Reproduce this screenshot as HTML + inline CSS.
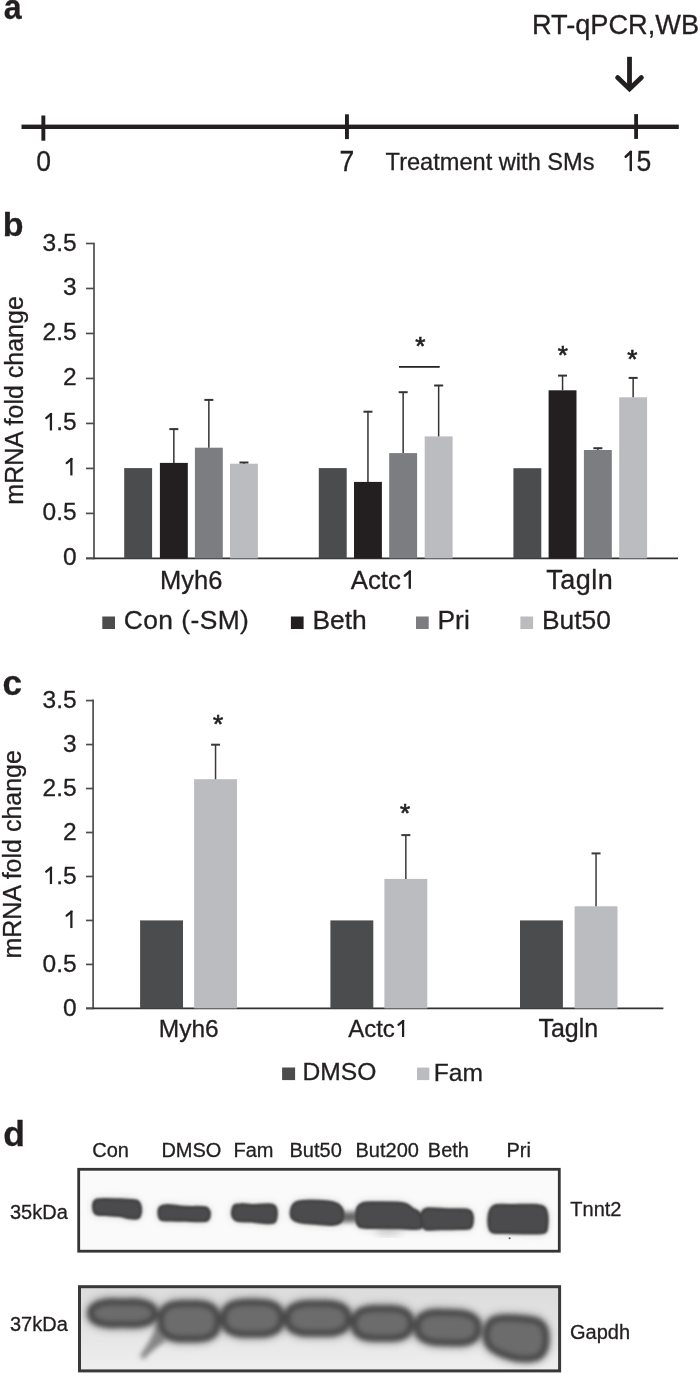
<!DOCTYPE html>
<html><head><meta charset="utf-8"><style>
html,body{margin:0;padding:0;background:#fff;overflow:hidden;width:700px;height:1373px;}
svg{display:block;will-change:transform;}
text{font-family:"Liberation Sans",sans-serif;stroke:#231f20;stroke-width:0.3px;}
</style></head><body>
<svg width="700" height="1373" viewBox="0 0 700 1373">
<defs>
<filter id="b1" x="-20%" y="-50%" width="140%" height="200%"><feGaussianBlur stdDeviation="1.3"/></filter>
<filter id="b2" x="-20%" y="-50%" width="140%" height="200%"><feGaussianBlur stdDeviation="2.5"/></filter>
<filter id="b3" x="-50%" y="-50%" width="200%" height="200%"><feGaussianBlur stdDeviation="4"/></filter>
<linearGradient id="g2" x1="0" y1="0" x2="0" y2="1"><stop offset="0" stop-color="#dcdcdc"/><stop offset="0.5" stop-color="#e4e4e4"/><stop offset="1" stop-color="#efefef"/></linearGradient>
<clipPath id="c1"><rect x="80.1" y="1170.7" width="477.8" height="79.1"/></clipPath>
<clipPath id="c2"><rect x="81" y="1288.2" width="477.1" height="81.2"/></clipPath>
</defs>
<rect x="0" y="0" width="700" height="1373" fill="#fff"/>
<text x="3.7" y="18.6" font-size="35" text-anchor="start" font-weight="bold" fill="#231f20" transform="translate(4.9 0) scale(0.92 1) translate(-4.9 0)">a</text>
<rect x="21.50" y="124.60" width="657.30" height="4.40" fill="#231f20" />
<rect x="41.40" y="115.50" width="3.90" height="25.20" fill="#231f20" />
<rect x="345.00" y="114.30" width="3.90" height="24.80" fill="#231f20" />
<rect x="634.20" y="114.10" width="3.80" height="24.80" fill="#231f20" />
<g transform="translate(0 171.1) scale(1 1.08) translate(0 -171.1)">
<text x="43.6" y="171.1" font-size="26.5" text-anchor="middle" font-weight="normal" fill="#231f20" >0</text>
<text x="346.9" y="171.1" font-size="26.5" text-anchor="middle" font-weight="normal" fill="#231f20" >7</text>
<rect x="629.53" y="152.39" width="2.44" height="18.71" fill="#231f20"/>
<line x1="630.94" y1="153.29" x2="625.64" y2="157.72" stroke="#231f20" stroke-width="2.44" stroke-linecap="round"/>
<text x="636.4" y="171.1" font-size="26.5" text-anchor="start" font-weight="normal" fill="#231f20" >5</text>
</g>
<text x="385.6" y="170.3" font-size="23.6" text-anchor="start" font-weight="normal" fill="#231f20" >Treatment with SMs</text>
<text x="531.9" y="33.9" font-size="27.2" text-anchor="start" font-weight="normal" fill="#231f20" >RT-qPCR,WB</text>
<rect x="627.10" y="56.80" width="4.80" height="31.00" fill="#231f20" />
<polyline points="617.6,77.6 629.5,89.0 641.4,77.6" fill="none" stroke="#231f20" stroke-width="4.8" stroke-linecap="round" stroke-linejoin="miter"/>
<text x="2.8" y="236.4" font-size="34" text-anchor="start" font-weight="bold" fill="#231f20" >b</text>
<line x1="94.00" y1="242.65" x2="94.00" y2="559.25" stroke="#4d4d4f" stroke-width="1.7" />
<line x1="86.00" y1="558.40" x2="678.00" y2="558.40" stroke="#333132" stroke-width="1.7" />
<line x1="86.00" y1="558.40" x2="94.00" y2="558.40" stroke="#4d4d4f" stroke-width="1.7" />
<text x="76.6" y="565.4" font-size="24.5" text-anchor="end" font-weight="normal" fill="#231f20" >0</text>
<line x1="86.00" y1="513.41" x2="94.00" y2="513.41" stroke="#4d4d4f" stroke-width="1.7" />
<text x="76.6" y="520.415" font-size="24.5" text-anchor="end" font-weight="normal" fill="#231f20" >0.5</text>
<line x1="86.00" y1="468.43" x2="94.00" y2="468.43" stroke="#4d4d4f" stroke-width="1.7" />
<rect x="70.25" y="458.13" width="2.25" height="17.30" fill="#231f20"/>
<line x1="71.55" y1="458.97" x2="66.65" y2="463.06" stroke="#231f20" stroke-width="2.25" stroke-linecap="round"/>
<line x1="86.00" y1="423.44" x2="94.00" y2="423.44" stroke="#4d4d4f" stroke-width="1.7" />
<rect x="49.82" y="413.15" width="2.25" height="17.30" fill="#231f20"/>
<line x1="51.12" y1="413.98" x2="46.22" y2="418.07" stroke="#231f20" stroke-width="2.25" stroke-linecap="round"/>
<text x="56.167382812499994" y="430.445" font-size="24.5" text-anchor="start" font-weight="normal" fill="#231f20" >.5</text>
<line x1="86.00" y1="378.46" x2="94.00" y2="378.46" stroke="#4d4d4f" stroke-width="1.7" />
<text x="76.6" y="385.46" font-size="24.5" text-anchor="end" font-weight="normal" fill="#231f20" >2</text>
<line x1="86.00" y1="333.47" x2="94.00" y2="333.47" stroke="#4d4d4f" stroke-width="1.7" />
<text x="76.6" y="340.47499999999997" font-size="24.5" text-anchor="end" font-weight="normal" fill="#231f20" >2.5</text>
<line x1="86.00" y1="288.49" x2="94.00" y2="288.49" stroke="#4d4d4f" stroke-width="1.7" />
<text x="76.6" y="295.49" font-size="24.5" text-anchor="end" font-weight="normal" fill="#231f20" >3</text>
<line x1="86.00" y1="243.50" x2="94.00" y2="243.50" stroke="#4d4d4f" stroke-width="1.7" />
<text x="76.6" y="250.505" font-size="24.5" text-anchor="end" font-weight="normal" fill="#231f20" >3.5</text>
<text x="22.6" y="400.4" font-size="25" text-anchor="middle" fill="#231f20" transform="rotate(-90 22.6 400.4)">mRNA fold change</text>
<rect x="124.20" y="468.10" width="27.90" height="90.30" fill="#4b4c4e" />
<rect x="159.90" y="462.90" width="27.90" height="95.50" fill="#231f20" />
<rect x="194.90" y="447.70" width="27.90" height="110.70" fill="#7c7d81" />
<rect x="230.00" y="463.70" width="27.90" height="94.70" fill="#bbbcbf" />
<line x1="173.85" y1="429.10" x2="173.85" y2="462.90" stroke="#333" stroke-width="1.5" />
<line x1="169.35" y1="429.10" x2="178.35" y2="429.10" stroke="#333" stroke-width="2.0" />
<line x1="208.85" y1="399.90" x2="208.85" y2="447.70" stroke="#333" stroke-width="1.5" />
<line x1="204.35" y1="399.90" x2="213.35" y2="399.90" stroke="#333" stroke-width="2.0" />
<line x1="243.95" y1="462.50" x2="243.95" y2="463.70" stroke="#333" stroke-width="1.5" />
<line x1="239.45" y1="462.50" x2="248.45" y2="462.50" stroke="#333" stroke-width="2.0" />
<rect x="318.80" y="468.10" width="27.90" height="90.30" fill="#4b4c4e" />
<rect x="354.00" y="481.90" width="27.90" height="76.50" fill="#231f20" />
<rect x="389.20" y="453.10" width="27.90" height="105.30" fill="#7c7d81" />
<rect x="424.70" y="436.40" width="27.90" height="122.00" fill="#bbbcbf" />
<line x1="367.95" y1="411.70" x2="367.95" y2="481.90" stroke="#333" stroke-width="1.5" />
<line x1="363.45" y1="411.70" x2="372.45" y2="411.70" stroke="#333" stroke-width="2.0" />
<line x1="403.15" y1="392.20" x2="403.15" y2="453.10" stroke="#333" stroke-width="1.5" />
<line x1="398.65" y1="392.20" x2="407.65" y2="392.20" stroke="#333" stroke-width="2.0" />
<line x1="438.65" y1="385.50" x2="438.65" y2="436.40" stroke="#333" stroke-width="1.5" />
<line x1="434.15" y1="385.50" x2="443.15" y2="385.50" stroke="#333" stroke-width="2.0" />
<rect x="513.40" y="468.20" width="27.90" height="90.20" fill="#4b4c4e" />
<rect x="548.60" y="390.30" width="27.90" height="168.10" fill="#231f20" />
<rect x="583.90" y="450.00" width="27.90" height="108.40" fill="#7c7d81" />
<rect x="619.20" y="397.30" width="27.90" height="161.10" fill="#bbbcbf" />
<line x1="562.55" y1="375.60" x2="562.55" y2="390.30" stroke="#333" stroke-width="1.5" />
<line x1="558.05" y1="375.60" x2="567.05" y2="375.60" stroke="#333" stroke-width="2.0" />
<line x1="597.85" y1="448.20" x2="597.85" y2="450.00" stroke="#333" stroke-width="1.5" />
<line x1="593.35" y1="448.20" x2="602.35" y2="448.20" stroke="#333" stroke-width="2.0" />
<line x1="633.15" y1="377.90" x2="633.15" y2="397.30" stroke="#333" stroke-width="1.5" />
<line x1="628.65" y1="377.90" x2="637.65" y2="377.90" stroke="#333" stroke-width="2.0" />
<line x1="399.00" y1="366.80" x2="439.70" y2="366.80" stroke="#231f20" stroke-width="1.7" />
<text x="420.29999999999995" y="354.65999999999997" font-size="26" text-anchor="middle" font-weight="normal" fill="#231f20" style="stroke-width:0.7px">*</text>
<text x="562.6999999999999" y="363.86" font-size="26" text-anchor="middle" font-weight="normal" fill="#231f20" style="stroke-width:0.7px">*</text>
<text x="632.1999999999999" y="368.26" font-size="26" text-anchor="middle" font-weight="normal" fill="#231f20" style="stroke-width:0.7px">*</text>
<text x="191.2" y="589.0" font-size="25.5" text-anchor="middle" font-weight="normal" fill="#231f20" >Myh6</text>
<text x="350.7373015625" y="588.8" font-size="25.8" text-anchor="start" font-weight="normal" fill="#231f20" >Actc</text>
<rect x="408.58" y="570.59" width="2.37" height="18.21" fill="#231f20"/>
<line x1="409.94" y1="571.46" x2="404.78" y2="575.77" stroke="#231f20" stroke-width="2.37" stroke-linecap="round"/>
<text x="579.8" y="589.0" font-size="27" text-anchor="middle" font-weight="normal" fill="#231f20" letter-spacing="0.5">Tagln</text>
<rect x="102.30" y="616.50" width="12.70" height="12.50" fill="#4b4c4e" />
<text x="123.8" y="629.3" font-size="26.4" text-anchor="start" font-weight="normal" fill="#231f20" letter-spacing="0.42">Con (-SM)</text>
<rect x="290.90" y="616.50" width="12.70" height="12.50" fill="#231f20" />
<text x="312.4" y="629.3" font-size="26.4" text-anchor="start" font-weight="normal" fill="#231f20" >Beth</text>
<rect x="416.00" y="616.50" width="12.70" height="12.50" fill="#7c7d81" />
<text x="437.5" y="629.3" font-size="26.4" text-anchor="start" font-weight="normal" fill="#231f20" >Pri</text>
<rect x="520.40" y="616.50" width="12.70" height="12.50" fill="#bbbcbf" />
<text x="541.9" y="629.3" font-size="26.4" text-anchor="start" font-weight="normal" fill="#231f20" >But50</text>
<text x="2.6" y="695.0" font-size="35" text-anchor="start" font-weight="bold" fill="#231f20" >c</text>
<line x1="93.10" y1="699.45" x2="93.10" y2="1009.25" stroke="#4d4d4f" stroke-width="1.7" />
<line x1="86.00" y1="1008.40" x2="663.40" y2="1008.40" stroke="#333132" stroke-width="1.7" />
<line x1="86.00" y1="1008.40" x2="93.10" y2="1008.40" stroke="#4d4d4f" stroke-width="1.7" />
<text x="76.6" y="1016.0" font-size="24.5" text-anchor="end" font-weight="normal" fill="#231f20" >0</text>
<line x1="86.00" y1="964.42" x2="93.10" y2="964.42" stroke="#4d4d4f" stroke-width="1.7" />
<text x="76.6" y="972.025" font-size="24.5" text-anchor="end" font-weight="normal" fill="#231f20" >0.5</text>
<line x1="86.00" y1="920.45" x2="93.10" y2="920.45" stroke="#4d4d4f" stroke-width="1.7" />
<rect x="70.25" y="910.75" width="2.25" height="17.30" fill="#231f20"/>
<line x1="71.55" y1="911.59" x2="66.65" y2="915.68" stroke="#231f20" stroke-width="2.25" stroke-linecap="round"/>
<line x1="86.00" y1="876.47" x2="93.10" y2="876.47" stroke="#4d4d4f" stroke-width="1.7" />
<rect x="49.82" y="866.78" width="2.25" height="17.30" fill="#231f20"/>
<line x1="51.12" y1="867.61" x2="46.22" y2="871.70" stroke="#231f20" stroke-width="2.25" stroke-linecap="round"/>
<text x="56.167382812499994" y="884.0749999999999" font-size="24.5" text-anchor="start" font-weight="normal" fill="#231f20" >.5</text>
<line x1="86.00" y1="832.50" x2="93.10" y2="832.50" stroke="#4d4d4f" stroke-width="1.7" />
<text x="76.6" y="840.1" font-size="24.5" text-anchor="end" font-weight="normal" fill="#231f20" >2</text>
<line x1="86.00" y1="788.52" x2="93.10" y2="788.52" stroke="#4d4d4f" stroke-width="1.7" />
<text x="76.6" y="796.125" font-size="24.5" text-anchor="end" font-weight="normal" fill="#231f20" >2.5</text>
<line x1="86.00" y1="744.55" x2="93.10" y2="744.55" stroke="#4d4d4f" stroke-width="1.7" />
<text x="76.6" y="752.15" font-size="24.5" text-anchor="end" font-weight="normal" fill="#231f20" >3</text>
<line x1="86.00" y1="700.58" x2="93.10" y2="700.58" stroke="#4d4d4f" stroke-width="1.7" />
<text x="76.6" y="708.1750000000001" font-size="24.5" text-anchor="end" font-weight="normal" fill="#231f20" >3.5</text>
<text x="21.1" y="854.3" font-size="25" text-anchor="middle" fill="#231f20" transform="rotate(-90 21.1 854.3)">mRNA fold change</text>
<rect x="140.10" y="920.40" width="42.90" height="88.00" fill="#4b4c4e" />
<rect x="194.10" y="779.20" width="42.90" height="229.20" fill="#bbbcbf" />
<line x1="215.55" y1="744.70" x2="215.55" y2="779.20" stroke="#3a3a3c" stroke-width="1.5" />
<line x1="211.05" y1="744.70" x2="220.05" y2="744.70" stroke="#3a3a3c" stroke-width="2.0" />
<rect x="330.40" y="920.40" width="42.90" height="88.00" fill="#4b4c4e" />
<rect x="384.40" y="878.90" width="42.90" height="129.50" fill="#bbbcbf" />
<line x1="405.85" y1="835.10" x2="405.85" y2="878.90" stroke="#3a3a3c" stroke-width="1.5" />
<line x1="401.35" y1="835.10" x2="410.35" y2="835.10" stroke="#3a3a3c" stroke-width="2.0" />
<rect x="520.00" y="920.40" width="42.90" height="88.00" fill="#4b4c4e" />
<rect x="574.60" y="906.30" width="42.90" height="102.10" fill="#bbbcbf" />
<line x1="596.05" y1="853.40" x2="596.05" y2="906.30" stroke="#3a3a3c" stroke-width="1.5" />
<line x1="591.55" y1="853.40" x2="600.55" y2="853.40" stroke="#3a3a3c" stroke-width="2.0" />
<text x="218.1" y="733.26" font-size="26" text-anchor="middle" font-weight="normal" fill="#231f20" style="stroke-width:0.7px">*</text>
<text x="405.0" y="821.56" font-size="26" text-anchor="middle" font-weight="normal" fill="#231f20" style="stroke-width:0.7px">*</text>
<text x="188.7" y="1037.0" font-size="24.5" text-anchor="middle" font-weight="normal" fill="#231f20" >Myh6</text>
<text x="348.18818749999997" y="1037.0" font-size="24.0" text-anchor="start" font-weight="normal" fill="#231f20" >Actc</text>
<rect x="401.99" y="1020.06" width="2.21" height="16.94" fill="#231f20"/>
<line x1="403.26" y1="1020.87" x2="398.46" y2="1024.88" stroke="#231f20" stroke-width="2.21" stroke-linecap="round"/>
<text x="568.3" y="1037.0" font-size="25.0" text-anchor="middle" font-weight="normal" fill="#231f20" >Tagln</text>
<rect x="282.10" y="1067.50" width="13.00" height="12.60" fill="#4b4c4e" />
<text x="302.6" y="1080.4" font-size="24.6" text-anchor="start" font-weight="normal" fill="#231f20" >DMSO</text>
<rect x="417.00" y="1067.60" width="12.30" height="12.50" fill="#bbbcbf" />
<text x="433.7" y="1080.6" font-size="24.6" text-anchor="start" font-weight="normal" fill="#231f20" >Fam</text>
<text x="3.3" y="1145.7" font-size="35.5" text-anchor="start" font-weight="bold" fill="#231f20" >d</text>
<text x="92.19999999999999" y="1157.0" font-size="20" text-anchor="start" font-weight="normal" fill="#231f20" >Con</text>
<text x="161.4" y="1157.0" font-size="20" text-anchor="start" font-weight="normal" fill="#231f20" >DMSO</text>
<text x="233.5" y="1157.0" font-size="20" text-anchor="start" font-weight="normal" fill="#231f20" >Fam</text>
<text x="289.5" y="1157.0" font-size="20" text-anchor="start" font-weight="normal" fill="#231f20" >But50</text>
<text x="355.5" y="1157.0" font-size="20" text-anchor="start" font-weight="normal" fill="#231f20" >But200</text>
<text x="427.8" y="1157.0" font-size="20" text-anchor="start" font-weight="normal" fill="#231f20" >Beth</text>
<text x="506.5" y="1157.0" font-size="20" text-anchor="start" font-weight="normal" fill="#231f20" >Pri</text>
<text x="10.0" y="1219.0" font-size="20" text-anchor="start" font-weight="normal" fill="#231f20" >35kDa</text>
<text x="10.0" y="1331.4" font-size="20" text-anchor="start" font-weight="normal" fill="#231f20" >37kDa</text>
<text x="570.3" y="1215.7" font-size="20" text-anchor="start" font-weight="normal" fill="#231f20" >Tnnt2</text>
<text x="570.0" y="1338.9" font-size="20" text-anchor="start" font-weight="normal" fill="#231f20" >Gapdh</text>
<rect x="78.70" y="1169.30" width="480.60" height="81.90" fill="#fafafa" />
<g clip-path="url(#c1)">
<g filter="url(#b3)" opacity="0.35">
<path d="M93.4,1206.1 C93.4,1203.8 93.9,1201.5 95.9,1200.3 C98.0,1199.2 101.8,1199.4 105.8,1199.4 C109.8,1199.3 115.7,1199.6 119.9,1199.8 C124.2,1200.0 128.2,1200.0 131.2,1200.4 C134.2,1200.7 136.5,1200.6 138.1,1201.8 C139.6,1203.1 140.3,1205.9 140.6,1208.0 C140.9,1210.2 140.6,1213.0 140.0,1214.7 C139.5,1216.4 139.2,1217.6 137.1,1218.1 C135.0,1218.6 130.2,1218.0 127.3,1217.5 C124.5,1217.1 123.5,1216.0 119.9,1215.5 C116.4,1215.0 109.9,1214.9 105.9,1214.6 C101.9,1214.3 98.1,1215.2 96.0,1213.8 C93.9,1212.4 93.4,1208.3 93.4,1206.1 Z" fill="#555"/>
<path d="M158.8,1212.0 C158.8,1210.0 159.4,1207.9 161.0,1206.8 C162.5,1205.7 163.9,1205.3 167.9,1205.4 C171.9,1205.5 178.8,1206.9 184.8,1207.3 C190.8,1207.6 200.1,1207.1 204.0,1207.6 C208.0,1208.0 207.6,1208.9 208.5,1210.1 C209.4,1211.3 209.9,1213.2 209.5,1214.9 C209.1,1216.7 209.4,1219.6 206.1,1220.5 C202.7,1221.4 195.3,1220.5 189.4,1220.4 C183.5,1220.3 175.6,1220.2 170.9,1220.0 C166.1,1219.8 163.0,1220.6 161.0,1219.2 C159.0,1217.9 158.8,1214.1 158.8,1212.0 Z" fill="#555"/>
<path d="M232.4,1212.1 C232.6,1210.1 233.0,1207.1 234.4,1205.9 C235.8,1204.6 237.4,1204.6 240.8,1204.6 C244.2,1204.5 250.1,1205.6 254.8,1205.6 C259.6,1205.6 265.8,1204.5 269.1,1204.7 C272.5,1204.9 273.8,1205.1 275.0,1206.8 C276.2,1208.5 276.5,1212.4 276.3,1214.9 C276.1,1217.5 276.1,1220.8 274.1,1222.1 C272.1,1223.4 268.2,1222.8 264.2,1222.6 C260.3,1222.5 254.8,1221.4 250.4,1221.1 C246.0,1220.7 240.7,1221.1 237.9,1220.6 C235.1,1220.0 234.4,1219.2 233.5,1217.8 C232.6,1216.4 232.2,1214.0 232.4,1212.1 Z" fill="#555"/>
<path d="M291.1,1212.0 C291.3,1209.6 292.3,1206.1 293.9,1204.3 C295.6,1202.6 296.5,1202.0 300.8,1201.5 C305.1,1200.9 314.5,1201.1 319.8,1201.3 C325.0,1201.5 328.9,1201.9 332.2,1202.5 C335.4,1203.2 337.3,1203.7 339.0,1205.3 C340.8,1206.9 342.5,1209.5 342.9,1212.0 C343.3,1214.6 343.0,1218.6 341.6,1220.7 C340.1,1222.7 338.6,1223.9 334.2,1224.3 C329.8,1224.8 320.7,1223.7 315.2,1223.3 C309.6,1222.9 304.6,1222.8 300.9,1222.1 C297.2,1221.3 294.6,1220.4 293.0,1218.7 C291.3,1217.1 290.9,1214.4 291.1,1212.0 Z" fill="#555"/>
<path d="M356.4,1215.0 C356.5,1212.7 356.9,1209.6 357.8,1207.7 C358.7,1205.9 359.7,1204.6 361.9,1203.8 C364.1,1203.0 364.9,1202.9 370.8,1202.8 C376.7,1202.7 391.5,1202.7 397.3,1203.0 C403.2,1203.2 403.5,1203.4 406.1,1204.5 C408.7,1205.5 410.9,1207.8 413.0,1209.2 C415.2,1210.6 417.7,1211.3 419.0,1213.1 C420.3,1214.8 420.9,1217.3 421.0,1219.9 C421.1,1222.4 423.2,1226.9 419.6,1228.2 C416.0,1229.5 406.6,1227.8 399.3,1227.7 C392.0,1227.6 382.1,1227.7 375.7,1227.6 C369.3,1227.4 364.0,1227.8 360.9,1226.9 C357.8,1225.9 357.7,1223.8 357.0,1221.8 C356.2,1219.8 356.3,1217.3 356.4,1215.0 Z" fill="#555"/>
<path d="M421.2,1218.0 C421.2,1215.8 421.7,1212.9 422.9,1211.3 C424.2,1209.8 424.4,1209.0 428.9,1208.7 C433.3,1208.5 443.3,1209.5 449.6,1209.7 C456.0,1209.9 463.4,1209.3 467.1,1209.9 C470.7,1210.5 470.6,1211.5 471.5,1213.2 C472.4,1214.9 472.7,1217.6 472.5,1220.0 C472.3,1222.4 472.3,1226.2 470.1,1227.7 C467.8,1229.1 464.1,1228.4 459.2,1228.6 C454.3,1228.8 446.0,1228.8 440.5,1228.8 C434.9,1228.9 428.8,1229.7 425.9,1229.1 C423.0,1228.4 423.8,1226.6 423.0,1224.8 C422.2,1222.9 421.2,1220.3 421.2,1218.0 Z" fill="#555"/>
<path d="M488.8,1218.0 C489.0,1215.0 489.8,1211.4 490.9,1209.3 C492.1,1207.3 492.6,1206.2 495.8,1205.5 C499.1,1204.9 504.0,1205.6 510.4,1205.5 C516.8,1205.5 528.8,1205.0 534.2,1205.2 C539.7,1205.5 541.0,1205.7 543.1,1206.9 C545.1,1208.1 545.9,1209.1 546.5,1212.2 C547.2,1215.4 547.3,1222.4 546.9,1225.8 C546.5,1229.1 547.0,1231.2 544.1,1232.4 C541.2,1233.5 535.7,1232.8 529.3,1232.9 C522.9,1232.9 511.7,1232.6 505.6,1232.5 C499.6,1232.4 495.6,1232.9 492.9,1232.1 C490.2,1231.3 490.1,1230.0 489.5,1227.7 C488.8,1225.3 488.6,1221.1 488.8,1218.0 Z" fill="#555"/>
</g>
<g filter="url(#b2)"><path d="M341,1212 L358,1211.5 L358,1222 L341,1222.5 Z" fill="#666"/></g>
<g filter="url(#b3)"><ellipse cx="388" cy="1231" rx="14" ry="3.5" fill="#c0c0c0"/></g>
<g filter="url(#b1)">
<path d="M93.4,1206.1 C93.4,1203.8 93.9,1201.5 95.9,1200.3 C98.0,1199.2 101.8,1199.4 105.8,1199.4 C109.8,1199.3 115.7,1199.6 119.9,1199.8 C124.2,1200.0 128.2,1200.0 131.2,1200.4 C134.2,1200.7 136.5,1200.6 138.1,1201.8 C139.6,1203.1 140.3,1205.9 140.6,1208.0 C140.9,1210.2 140.6,1213.0 140.0,1214.7 C139.5,1216.4 139.2,1217.6 137.1,1218.1 C135.0,1218.6 130.2,1218.0 127.3,1217.5 C124.5,1217.1 123.5,1216.0 119.9,1215.5 C116.4,1215.0 109.9,1214.9 105.9,1214.6 C101.9,1214.3 98.1,1215.2 96.0,1213.8 C93.9,1212.4 93.4,1208.3 93.4,1206.1 Z" fill="#4b4b4d" stroke="#434343" stroke-width="3"/>
<path d="M158.8,1212.0 C158.8,1210.0 159.4,1207.9 161.0,1206.8 C162.5,1205.7 163.9,1205.3 167.9,1205.4 C171.9,1205.5 178.8,1206.9 184.8,1207.3 C190.8,1207.6 200.1,1207.1 204.0,1207.6 C208.0,1208.0 207.6,1208.9 208.5,1210.1 C209.4,1211.3 209.9,1213.2 209.5,1214.9 C209.1,1216.7 209.4,1219.6 206.1,1220.5 C202.7,1221.4 195.3,1220.5 189.4,1220.4 C183.5,1220.3 175.6,1220.2 170.9,1220.0 C166.1,1219.8 163.0,1220.6 161.0,1219.2 C159.0,1217.9 158.8,1214.1 158.8,1212.0 Z" fill="#4b4b4d" stroke="#434343" stroke-width="3"/>
<path d="M232.4,1212.1 C232.6,1210.1 233.0,1207.1 234.4,1205.9 C235.8,1204.6 237.4,1204.6 240.8,1204.6 C244.2,1204.5 250.1,1205.6 254.8,1205.6 C259.6,1205.6 265.8,1204.5 269.1,1204.7 C272.5,1204.9 273.8,1205.1 275.0,1206.8 C276.2,1208.5 276.5,1212.4 276.3,1214.9 C276.1,1217.5 276.1,1220.8 274.1,1222.1 C272.1,1223.4 268.2,1222.8 264.2,1222.6 C260.3,1222.5 254.8,1221.4 250.4,1221.1 C246.0,1220.7 240.7,1221.1 237.9,1220.6 C235.1,1220.0 234.4,1219.2 233.5,1217.8 C232.6,1216.4 232.2,1214.0 232.4,1212.1 Z" fill="#4b4b4d" stroke="#434343" stroke-width="3"/>
<path d="M291.1,1212.0 C291.3,1209.6 292.3,1206.1 293.9,1204.3 C295.6,1202.6 296.5,1202.0 300.8,1201.5 C305.1,1200.9 314.5,1201.1 319.8,1201.3 C325.0,1201.5 328.9,1201.9 332.2,1202.5 C335.4,1203.2 337.3,1203.7 339.0,1205.3 C340.8,1206.9 342.5,1209.5 342.9,1212.0 C343.3,1214.6 343.0,1218.6 341.6,1220.7 C340.1,1222.7 338.6,1223.9 334.2,1224.3 C329.8,1224.8 320.7,1223.7 315.2,1223.3 C309.6,1222.9 304.6,1222.8 300.9,1222.1 C297.2,1221.3 294.6,1220.4 293.0,1218.7 C291.3,1217.1 290.9,1214.4 291.1,1212.0 Z" fill="#4b4b4d" stroke="#434343" stroke-width="3"/>
<path d="M356.4,1215.0 C356.5,1212.7 356.9,1209.6 357.8,1207.7 C358.7,1205.9 359.7,1204.6 361.9,1203.8 C364.1,1203.0 364.9,1202.9 370.8,1202.8 C376.7,1202.7 391.5,1202.7 397.3,1203.0 C403.2,1203.2 403.5,1203.4 406.1,1204.5 C408.7,1205.5 410.9,1207.8 413.0,1209.2 C415.2,1210.6 417.7,1211.3 419.0,1213.1 C420.3,1214.8 420.9,1217.3 421.0,1219.9 C421.1,1222.4 423.2,1226.9 419.6,1228.2 C416.0,1229.5 406.6,1227.8 399.3,1227.7 C392.0,1227.6 382.1,1227.7 375.7,1227.6 C369.3,1227.4 364.0,1227.8 360.9,1226.9 C357.8,1225.9 357.7,1223.8 357.0,1221.8 C356.2,1219.8 356.3,1217.3 356.4,1215.0 Z" fill="#4b4b4d" stroke="#434343" stroke-width="3"/>
<path d="M421.2,1218.0 C421.2,1215.8 421.7,1212.9 422.9,1211.3 C424.2,1209.8 424.4,1209.0 428.9,1208.7 C433.3,1208.5 443.3,1209.5 449.6,1209.7 C456.0,1209.9 463.4,1209.3 467.1,1209.9 C470.7,1210.5 470.6,1211.5 471.5,1213.2 C472.4,1214.9 472.7,1217.6 472.5,1220.0 C472.3,1222.4 472.3,1226.2 470.1,1227.7 C467.8,1229.1 464.1,1228.4 459.2,1228.6 C454.3,1228.8 446.0,1228.8 440.5,1228.8 C434.9,1228.9 428.8,1229.7 425.9,1229.1 C423.0,1228.4 423.8,1226.6 423.0,1224.8 C422.2,1222.9 421.2,1220.3 421.2,1218.0 Z" fill="#4b4b4d" stroke="#434343" stroke-width="3"/>
<path d="M488.8,1218.0 C489.0,1215.0 489.8,1211.4 490.9,1209.3 C492.1,1207.3 492.6,1206.2 495.8,1205.5 C499.1,1204.9 504.0,1205.6 510.4,1205.5 C516.8,1205.5 528.8,1205.0 534.2,1205.2 C539.7,1205.5 541.0,1205.7 543.1,1206.9 C545.1,1208.1 545.9,1209.1 546.5,1212.2 C547.2,1215.4 547.3,1222.4 546.9,1225.8 C546.5,1229.1 547.0,1231.2 544.1,1232.4 C541.2,1233.5 535.7,1232.8 529.3,1232.9 C522.9,1232.9 511.7,1232.6 505.6,1232.5 C499.6,1232.4 495.6,1232.9 492.9,1232.1 C490.2,1231.3 490.1,1230.0 489.5,1227.7 C488.8,1225.3 488.6,1221.1 488.8,1218.0 Z" fill="#4b4b4d" stroke="#434343" stroke-width="3"/>
</g>
<circle cx="509.6" cy="1238.3" r="1" fill="#555"/>
</g>
<rect x="78.7" y="1169.3" width="480.6" height="81.9" fill="none" stroke="#353535" stroke-width="2.8"/>
<rect x="79.5" y="1286.7" width="480.1" height="84.2" fill="url(#g2)"/>
<g clip-path="url(#c2)">
<g filter="url(#b3)" opacity="0.55">
<path d="M154.7,1313.2 C154.7,1314.2 154.6,1315.3 154.3,1316.2 C154.0,1317.0 153.6,1317.7 153.0,1318.4 C152.4,1319.1 151.7,1319.7 150.9,1320.3 C150.0,1320.9 149.0,1321.4 147.9,1321.9 C146.8,1322.3 145.6,1322.7 144.3,1323.1 C142.9,1323.4 141.5,1323.7 139.9,1324.0 C138.3,1324.2 136.7,1324.3 134.9,1324.4 C133.2,1324.5 131.5,1324.5 129.4,1324.4 C127.4,1324.4 125.0,1324.2 122.8,1324.2 C120.6,1324.2 118.2,1324.4 116.2,1324.4 C114.1,1324.5 112.4,1324.5 110.7,1324.4 C108.9,1324.3 107.3,1324.2 105.7,1324.0 C104.1,1323.7 102.7,1323.4 101.3,1323.1 C100.0,1322.7 98.8,1322.3 97.7,1321.9 C96.6,1321.4 95.6,1320.9 94.7,1320.3 C93.9,1319.7 93.2,1319.1 92.6,1318.4 C92.0,1317.7 91.6,1317.0 91.3,1316.2 C91.0,1315.3 90.9,1314.2 90.9,1313.3 C90.9,1312.3 91.0,1311.2 91.3,1310.3 C91.6,1309.5 92.0,1308.8 92.6,1308.1 C93.2,1307.4 93.9,1306.8 94.7,1306.2 C95.6,1305.6 96.6,1305.1 97.7,1304.6 C98.8,1304.2 100.0,1303.8 101.3,1303.4 C102.7,1303.1 104.1,1302.8 105.7,1302.5 C107.3,1302.3 108.9,1302.2 110.7,1302.1 C112.4,1302.0 114.1,1302.0 116.2,1302.1 C118.2,1302.1 120.6,1302.3 122.8,1302.3 C125.0,1302.3 127.4,1302.1 129.4,1302.1 C131.5,1302.0 133.2,1302.0 134.9,1302.1 C136.7,1302.2 138.3,1302.3 139.9,1302.5 C141.5,1302.8 142.9,1303.1 144.3,1303.4 C145.6,1303.8 146.8,1304.2 147.9,1304.6 C149.0,1305.1 150.0,1305.6 150.9,1306.2 C151.7,1306.8 152.4,1307.4 153.0,1308.1 C153.6,1308.8 154.0,1309.5 154.3,1310.3 C154.6,1311.2 154.7,1312.3 154.7,1313.2 Z" fill="none" stroke="#606060" stroke-width="10"/>
<path d="M217.5,1321.2 C217.5,1322.9 217.4,1324.9 217.2,1326.3 C217.0,1327.7 216.7,1328.6 216.2,1329.6 C215.8,1330.6 215.2,1331.5 214.6,1332.3 C213.9,1333.1 213.2,1333.9 212.3,1334.5 C211.4,1335.2 210.4,1335.8 209.4,1336.3 C208.3,1336.8 207.1,1337.2 205.8,1337.6 C204.5,1337.9 203.1,1338.2 201.6,1338.4 C200.0,1338.6 198.6,1338.7 196.6,1338.8 C194.5,1338.9 191.6,1338.8 189.2,1338.8 C186.7,1338.8 183.8,1338.9 181.7,1338.8 C179.7,1338.7 178.3,1338.6 176.7,1338.4 C175.2,1338.2 173.8,1337.9 172.5,1337.6 C171.2,1337.2 170.0,1336.8 168.9,1336.3 C167.9,1335.8 166.9,1335.2 166.0,1334.5 C165.1,1333.9 164.4,1333.1 163.7,1332.3 C163.1,1331.5 162.5,1330.6 162.1,1329.6 C161.6,1328.6 161.3,1327.7 161.1,1326.3 C160.9,1324.9 160.8,1322.9 160.8,1321.3 C160.8,1319.6 160.9,1317.6 161.1,1316.2 C161.3,1314.8 161.6,1313.9 162.1,1312.9 C162.5,1311.9 163.1,1311.0 163.7,1310.2 C164.4,1309.4 165.1,1308.6 166.0,1308.0 C166.9,1307.3 167.9,1306.7 168.9,1306.2 C170.0,1305.7 171.2,1305.3 172.5,1304.9 C173.8,1304.6 175.2,1304.3 176.7,1304.1 C178.3,1303.9 179.7,1303.8 181.7,1303.7 C183.8,1303.6 186.7,1303.7 189.1,1303.7 C191.6,1303.7 194.5,1303.6 196.6,1303.7 C198.6,1303.8 200.0,1303.9 201.6,1304.1 C203.1,1304.3 204.5,1304.6 205.8,1304.9 C207.1,1305.3 208.3,1305.7 209.4,1306.2 C210.4,1306.7 211.4,1307.3 212.3,1308.0 C213.2,1308.6 213.9,1309.4 214.6,1310.2 C215.2,1311.0 215.8,1311.9 216.2,1312.9 C216.7,1313.9 217.0,1314.8 217.2,1316.2 C217.4,1317.6 217.5,1319.6 217.5,1321.2 Z" fill="none" stroke="#606060" stroke-width="10"/>
<path d="M281.2,1318.3 C281.2,1319.8 281.1,1321.5 280.9,1322.7 C280.6,1323.9 280.3,1324.8 279.8,1325.7 C279.4,1326.6 278.8,1327.4 278.1,1328.1 C277.4,1328.9 276.6,1329.6 275.7,1330.2 C274.8,1330.8 273.7,1331.3 272.6,1331.8 C271.5,1332.3 270.2,1332.7 268.9,1333.0 C267.6,1333.3 266.1,1333.6 264.6,1333.7 C263.0,1333.9 261.6,1334.0 259.5,1334.0 C257.5,1334.1 254.8,1334.0 252.5,1334.0 C250.2,1334.0 247.5,1334.1 245.5,1334.0 C243.4,1334.0 242.0,1333.9 240.4,1333.7 C238.9,1333.6 237.4,1333.3 236.1,1333.0 C234.8,1332.7 233.5,1332.3 232.4,1331.8 C231.3,1331.3 230.2,1330.8 229.3,1330.2 C228.4,1329.6 227.6,1328.9 226.9,1328.1 C226.2,1327.4 225.6,1326.6 225.2,1325.7 C224.7,1324.8 224.4,1323.9 224.1,1322.7 C223.9,1321.5 223.8,1319.8 223.8,1318.3 C223.8,1316.8 223.9,1315.1 224.1,1313.9 C224.4,1312.7 224.7,1311.8 225.2,1310.9 C225.6,1310.0 226.2,1309.2 226.9,1308.5 C227.6,1307.7 228.4,1307.0 229.3,1306.4 C230.2,1305.8 231.3,1305.3 232.4,1304.8 C233.5,1304.3 234.8,1303.9 236.1,1303.6 C237.4,1303.3 238.9,1303.0 240.4,1302.9 C242.0,1302.7 243.4,1302.6 245.5,1302.6 C247.5,1302.5 250.2,1302.6 252.5,1302.6 C254.8,1302.6 257.5,1302.5 259.5,1302.6 C261.6,1302.6 263.0,1302.7 264.6,1302.9 C266.1,1303.0 267.6,1303.3 268.9,1303.6 C270.2,1303.9 271.5,1304.3 272.6,1304.8 C273.7,1305.3 274.8,1305.8 275.7,1306.4 C276.6,1307.0 277.4,1307.7 278.1,1308.5 C278.8,1309.2 279.4,1310.0 279.8,1310.9 C280.3,1311.8 280.6,1312.7 280.9,1313.9 C281.1,1315.1 281.2,1316.8 281.2,1318.3 Z" fill="none" stroke="#606060" stroke-width="10"/>
<path d="M348.2,1318.4 C348.2,1319.8 348.1,1321.4 347.8,1322.5 C347.6,1323.7 347.2,1324.5 346.7,1325.4 C346.2,1326.2 345.6,1327.0 344.9,1327.7 C344.1,1328.4 343.3,1329.0 342.3,1329.6 C341.3,1330.2 340.2,1330.7 339.0,1331.1 C337.8,1331.6 336.5,1331.9 335.1,1332.2 C333.7,1332.5 332.2,1332.7 330.5,1332.9 C328.8,1333.0 327.3,1333.1 325.2,1333.1 C323.1,1333.1 320.3,1333.0 317.8,1333.0 C315.3,1333.0 312.5,1333.1 310.4,1333.1 C308.3,1333.1 306.8,1333.0 305.1,1332.9 C303.4,1332.7 301.9,1332.5 300.5,1332.2 C299.1,1331.9 297.8,1331.6 296.6,1331.1 C295.4,1330.7 294.3,1330.2 293.3,1329.6 C292.3,1329.0 291.5,1328.4 290.7,1327.7 C290.0,1327.0 289.4,1326.2 288.9,1325.4 C288.4,1324.5 288.0,1323.7 287.8,1322.5 C287.5,1321.4 287.4,1319.8 287.4,1318.4 C287.4,1317.0 287.5,1315.4 287.8,1314.3 C288.0,1313.1 288.4,1312.3 288.9,1311.4 C289.4,1310.6 290.0,1309.8 290.7,1309.1 C291.5,1308.4 292.3,1307.8 293.3,1307.2 C294.3,1306.6 295.4,1306.1 296.6,1305.7 C297.8,1305.2 299.1,1304.9 300.5,1304.6 C301.9,1304.3 303.4,1304.1 305.1,1303.9 C306.8,1303.8 308.3,1303.7 310.4,1303.7 C312.5,1303.7 315.3,1303.8 317.8,1303.8 C320.3,1303.8 323.1,1303.7 325.2,1303.7 C327.3,1303.7 328.8,1303.8 330.5,1303.9 C332.2,1304.1 333.7,1304.3 335.1,1304.6 C336.5,1304.9 337.8,1305.2 339.0,1305.7 C340.2,1306.1 341.3,1306.6 342.3,1307.2 C343.3,1307.8 344.1,1308.4 344.9,1309.1 C345.6,1309.8 346.2,1310.6 346.7,1311.4 C347.2,1312.3 347.6,1313.1 347.8,1314.3 C348.1,1315.4 348.2,1317.0 348.2,1318.4 Z" fill="none" stroke="#606060" stroke-width="10"/>
<path d="M410.8,1323.4 C410.8,1324.8 410.7,1326.4 410.5,1327.5 C410.2,1328.7 409.9,1329.5 409.4,1330.3 C409.0,1331.2 408.4,1331.9 407.7,1332.6 C407.0,1333.4 406.2,1334.0 405.3,1334.6 C404.4,1335.1 403.4,1335.6 402.3,1336.1 C401.2,1336.5 399.9,1336.9 398.6,1337.2 C397.3,1337.5 395.9,1337.7 394.3,1337.8 C392.8,1338.0 391.4,1338.0 389.4,1338.1 C387.4,1338.1 384.8,1338.0 382.5,1338.0 C380.2,1338.0 377.6,1338.1 375.6,1338.1 C373.6,1338.0 372.2,1338.0 370.7,1337.8 C369.1,1337.7 367.7,1337.5 366.4,1337.2 C365.1,1336.9 363.8,1336.5 362.7,1336.1 C361.6,1335.6 360.6,1335.1 359.7,1334.6 C358.8,1334.0 358.0,1333.4 357.3,1332.6 C356.6,1331.9 356.0,1331.2 355.6,1330.3 C355.1,1329.5 354.8,1328.7 354.5,1327.5 C354.3,1326.4 354.2,1324.8 354.2,1323.4 C354.2,1322.0 354.3,1320.4 354.5,1319.3 C354.8,1318.1 355.1,1317.3 355.6,1316.5 C356.0,1315.6 356.6,1314.9 357.3,1314.2 C358.0,1313.4 358.8,1312.8 359.7,1312.2 C360.6,1311.7 361.6,1311.2 362.7,1310.7 C363.8,1310.3 365.1,1309.9 366.4,1309.6 C367.7,1309.3 369.1,1309.1 370.7,1309.0 C372.2,1308.8 373.6,1308.8 375.6,1308.7 C377.6,1308.7 380.2,1308.8 382.5,1308.8 C384.8,1308.8 387.4,1308.7 389.4,1308.7 C391.4,1308.8 392.8,1308.8 394.3,1309.0 C395.9,1309.1 397.3,1309.3 398.6,1309.6 C399.9,1309.9 401.2,1310.3 402.3,1310.7 C403.4,1311.2 404.4,1311.7 405.3,1312.2 C406.2,1312.8 407.0,1313.4 407.7,1314.2 C408.4,1314.9 409.0,1315.6 409.4,1316.5 C409.9,1317.3 410.2,1318.1 410.5,1319.3 C410.7,1320.4 410.8,1322.0 410.8,1323.4 Z" fill="none" stroke="#606060" stroke-width="10"/>
<path d="M478.2,1328.7 C478.1,1330.1 478.0,1331.7 477.7,1332.9 C477.4,1334.1 477.0,1334.9 476.5,1335.7 C475.9,1336.6 475.3,1337.3 474.5,1338.0 C473.8,1338.7 472.9,1339.3 471.9,1339.9 C470.9,1340.4 469.8,1340.9 468.6,1341.3 C467.4,1341.7 466.0,1342.0 464.6,1342.3 C463.2,1342.5 461.6,1342.7 460.0,1342.8 C458.3,1342.9 456.8,1342.9 454.7,1342.8 C452.5,1342.8 449.7,1342.6 447.3,1342.5 C444.8,1342.4 442.0,1342.4 439.9,1342.3 C437.8,1342.2 436.2,1342.1 434.6,1341.9 C432.9,1341.7 431.4,1341.4 430.0,1341.1 C428.6,1340.7 427.3,1340.3 426.1,1339.8 C424.9,1339.3 423.9,1338.8 422.9,1338.2 C422.0,1337.6 421.1,1336.9 420.4,1336.1 C419.7,1335.4 419.1,1334.6 418.6,1333.7 C418.2,1332.8 417.8,1332.0 417.6,1330.8 C417.4,1329.6 417.4,1328.0 417.4,1326.6 C417.5,1325.2 417.6,1323.6 417.9,1322.4 C418.2,1321.2 418.6,1320.4 419.1,1319.6 C419.7,1318.7 420.3,1318.0 421.1,1317.3 C421.8,1316.6 422.7,1316.0 423.7,1315.4 C424.7,1314.9 425.8,1314.4 427.0,1314.0 C428.2,1313.6 429.6,1313.3 431.0,1313.0 C432.4,1312.8 434.0,1312.6 435.6,1312.5 C437.3,1312.4 438.8,1312.4 440.9,1312.5 C443.1,1312.5 445.9,1312.7 448.3,1312.8 C450.8,1312.9 453.6,1312.9 455.7,1313.0 C457.8,1313.1 459.4,1313.2 461.0,1313.4 C462.7,1313.6 464.2,1313.9 465.6,1314.2 C467.0,1314.6 468.3,1315.0 469.5,1315.5 C470.7,1316.0 471.7,1316.5 472.7,1317.1 C473.6,1317.7 474.5,1318.4 475.2,1319.2 C475.9,1319.9 476.5,1320.7 477.0,1321.6 C477.4,1322.5 477.8,1323.3 478.0,1324.5 C478.2,1325.7 478.2,1327.3 478.2,1328.7 Z" fill="none" stroke="#606060" stroke-width="10"/>
<path d="M486.3,1335.2 C486.4,1332.3 487.2,1327.7 488.6,1325.2 C489.9,1322.6 491.2,1321.0 494.2,1319.8 C497.1,1318.6 501.2,1318.2 506.2,1318.0 C511.1,1317.9 518.5,1318.4 523.8,1319.0 C529.0,1319.6 534.3,1320.0 537.7,1321.6 C541.1,1323.2 543.0,1325.7 544.3,1328.8 C545.7,1331.8 545.9,1336.1 545.8,1339.8 C545.7,1343.4 545.1,1347.8 543.5,1350.8 C541.8,1353.8 540.0,1356.3 536.0,1357.5 C532.0,1358.8 524.7,1358.8 519.4,1358.3 C514.2,1357.8 508.9,1356.2 504.4,1354.6 C500.0,1353.0 495.3,1350.7 492.5,1348.7 C489.7,1346.7 488.8,1344.7 487.7,1342.5 C486.7,1340.2 486.2,1338.1 486.3,1335.2 Z" fill="none" stroke="#606060" stroke-width="10"/>
</g>
<g filter="url(#b2)"><path d="M158,1322 L166,1341 Q153,1349 144,1359 Q140,1358 140.5,1355 Q149,1343 155,1330 Z" fill="#858585"/></g>
<g filter="url(#b2)">
<path d="M154.7,1313.2 C154.7,1314.2 154.6,1315.3 154.3,1316.2 C154.0,1317.0 153.6,1317.7 153.0,1318.4 C152.4,1319.1 151.7,1319.7 150.9,1320.3 C150.0,1320.9 149.0,1321.4 147.9,1321.9 C146.8,1322.3 145.6,1322.7 144.3,1323.1 C142.9,1323.4 141.5,1323.7 139.9,1324.0 C138.3,1324.2 136.7,1324.3 134.9,1324.4 C133.2,1324.5 131.5,1324.5 129.4,1324.4 C127.4,1324.4 125.0,1324.2 122.8,1324.2 C120.6,1324.2 118.2,1324.4 116.2,1324.4 C114.1,1324.5 112.4,1324.5 110.7,1324.4 C108.9,1324.3 107.3,1324.2 105.7,1324.0 C104.1,1323.7 102.7,1323.4 101.3,1323.1 C100.0,1322.7 98.8,1322.3 97.7,1321.9 C96.6,1321.4 95.6,1320.9 94.7,1320.3 C93.9,1319.7 93.2,1319.1 92.6,1318.4 C92.0,1317.7 91.6,1317.0 91.3,1316.2 C91.0,1315.3 90.9,1314.2 90.9,1313.3 C90.9,1312.3 91.0,1311.2 91.3,1310.3 C91.6,1309.5 92.0,1308.8 92.6,1308.1 C93.2,1307.4 93.9,1306.8 94.7,1306.2 C95.6,1305.6 96.6,1305.1 97.7,1304.6 C98.8,1304.2 100.0,1303.8 101.3,1303.4 C102.7,1303.1 104.1,1302.8 105.7,1302.5 C107.3,1302.3 108.9,1302.2 110.7,1302.1 C112.4,1302.0 114.1,1302.0 116.2,1302.1 C118.2,1302.1 120.6,1302.3 122.8,1302.3 C125.0,1302.3 127.4,1302.1 129.4,1302.1 C131.5,1302.0 133.2,1302.0 134.9,1302.1 C136.7,1302.2 138.3,1302.3 139.9,1302.5 C141.5,1302.8 142.9,1303.1 144.3,1303.4 C145.6,1303.8 146.8,1304.2 147.9,1304.6 C149.0,1305.1 150.0,1305.6 150.9,1306.2 C151.7,1306.8 152.4,1307.4 153.0,1308.1 C153.6,1308.8 154.0,1309.5 154.3,1310.3 C154.6,1311.2 154.7,1312.3 154.7,1313.2 Z" fill="#6c6c6c" stroke="#474747" stroke-width="6.5"/>
<path d="M217.5,1321.2 C217.5,1322.9 217.4,1324.9 217.2,1326.3 C217.0,1327.7 216.7,1328.6 216.2,1329.6 C215.8,1330.6 215.2,1331.5 214.6,1332.3 C213.9,1333.1 213.2,1333.9 212.3,1334.5 C211.4,1335.2 210.4,1335.8 209.4,1336.3 C208.3,1336.8 207.1,1337.2 205.8,1337.6 C204.5,1337.9 203.1,1338.2 201.6,1338.4 C200.0,1338.6 198.6,1338.7 196.6,1338.8 C194.5,1338.9 191.6,1338.8 189.2,1338.8 C186.7,1338.8 183.8,1338.9 181.7,1338.8 C179.7,1338.7 178.3,1338.6 176.7,1338.4 C175.2,1338.2 173.8,1337.9 172.5,1337.6 C171.2,1337.2 170.0,1336.8 168.9,1336.3 C167.9,1335.8 166.9,1335.2 166.0,1334.5 C165.1,1333.9 164.4,1333.1 163.7,1332.3 C163.1,1331.5 162.5,1330.6 162.1,1329.6 C161.6,1328.6 161.3,1327.7 161.1,1326.3 C160.9,1324.9 160.8,1322.9 160.8,1321.3 C160.8,1319.6 160.9,1317.6 161.1,1316.2 C161.3,1314.8 161.6,1313.9 162.1,1312.9 C162.5,1311.9 163.1,1311.0 163.7,1310.2 C164.4,1309.4 165.1,1308.6 166.0,1308.0 C166.9,1307.3 167.9,1306.7 168.9,1306.2 C170.0,1305.7 171.2,1305.3 172.5,1304.9 C173.8,1304.6 175.2,1304.3 176.7,1304.1 C178.3,1303.9 179.7,1303.8 181.7,1303.7 C183.8,1303.6 186.7,1303.7 189.1,1303.7 C191.6,1303.7 194.5,1303.6 196.6,1303.7 C198.6,1303.8 200.0,1303.9 201.6,1304.1 C203.1,1304.3 204.5,1304.6 205.8,1304.9 C207.1,1305.3 208.3,1305.7 209.4,1306.2 C210.4,1306.7 211.4,1307.3 212.3,1308.0 C213.2,1308.6 213.9,1309.4 214.6,1310.2 C215.2,1311.0 215.8,1311.9 216.2,1312.9 C216.7,1313.9 217.0,1314.8 217.2,1316.2 C217.4,1317.6 217.5,1319.6 217.5,1321.2 Z" fill="#6c6c6c" stroke="#474747" stroke-width="6.5"/>
<path d="M281.2,1318.3 C281.2,1319.8 281.1,1321.5 280.9,1322.7 C280.6,1323.9 280.3,1324.8 279.8,1325.7 C279.4,1326.6 278.8,1327.4 278.1,1328.1 C277.4,1328.9 276.6,1329.6 275.7,1330.2 C274.8,1330.8 273.7,1331.3 272.6,1331.8 C271.5,1332.3 270.2,1332.7 268.9,1333.0 C267.6,1333.3 266.1,1333.6 264.6,1333.7 C263.0,1333.9 261.6,1334.0 259.5,1334.0 C257.5,1334.1 254.8,1334.0 252.5,1334.0 C250.2,1334.0 247.5,1334.1 245.5,1334.0 C243.4,1334.0 242.0,1333.9 240.4,1333.7 C238.9,1333.6 237.4,1333.3 236.1,1333.0 C234.8,1332.7 233.5,1332.3 232.4,1331.8 C231.3,1331.3 230.2,1330.8 229.3,1330.2 C228.4,1329.6 227.6,1328.9 226.9,1328.1 C226.2,1327.4 225.6,1326.6 225.2,1325.7 C224.7,1324.8 224.4,1323.9 224.1,1322.7 C223.9,1321.5 223.8,1319.8 223.8,1318.3 C223.8,1316.8 223.9,1315.1 224.1,1313.9 C224.4,1312.7 224.7,1311.8 225.2,1310.9 C225.6,1310.0 226.2,1309.2 226.9,1308.5 C227.6,1307.7 228.4,1307.0 229.3,1306.4 C230.2,1305.8 231.3,1305.3 232.4,1304.8 C233.5,1304.3 234.8,1303.9 236.1,1303.6 C237.4,1303.3 238.9,1303.0 240.4,1302.9 C242.0,1302.7 243.4,1302.6 245.5,1302.6 C247.5,1302.5 250.2,1302.6 252.5,1302.6 C254.8,1302.6 257.5,1302.5 259.5,1302.6 C261.6,1302.6 263.0,1302.7 264.6,1302.9 C266.1,1303.0 267.6,1303.3 268.9,1303.6 C270.2,1303.9 271.5,1304.3 272.6,1304.8 C273.7,1305.3 274.8,1305.8 275.7,1306.4 C276.6,1307.0 277.4,1307.7 278.1,1308.5 C278.8,1309.2 279.4,1310.0 279.8,1310.9 C280.3,1311.8 280.6,1312.7 280.9,1313.9 C281.1,1315.1 281.2,1316.8 281.2,1318.3 Z" fill="#6c6c6c" stroke="#474747" stroke-width="6.5"/>
<path d="M348.2,1318.4 C348.2,1319.8 348.1,1321.4 347.8,1322.5 C347.6,1323.7 347.2,1324.5 346.7,1325.4 C346.2,1326.2 345.6,1327.0 344.9,1327.7 C344.1,1328.4 343.3,1329.0 342.3,1329.6 C341.3,1330.2 340.2,1330.7 339.0,1331.1 C337.8,1331.6 336.5,1331.9 335.1,1332.2 C333.7,1332.5 332.2,1332.7 330.5,1332.9 C328.8,1333.0 327.3,1333.1 325.2,1333.1 C323.1,1333.1 320.3,1333.0 317.8,1333.0 C315.3,1333.0 312.5,1333.1 310.4,1333.1 C308.3,1333.1 306.8,1333.0 305.1,1332.9 C303.4,1332.7 301.9,1332.5 300.5,1332.2 C299.1,1331.9 297.8,1331.6 296.6,1331.1 C295.4,1330.7 294.3,1330.2 293.3,1329.6 C292.3,1329.0 291.5,1328.4 290.7,1327.7 C290.0,1327.0 289.4,1326.2 288.9,1325.4 C288.4,1324.5 288.0,1323.7 287.8,1322.5 C287.5,1321.4 287.4,1319.8 287.4,1318.4 C287.4,1317.0 287.5,1315.4 287.8,1314.3 C288.0,1313.1 288.4,1312.3 288.9,1311.4 C289.4,1310.6 290.0,1309.8 290.7,1309.1 C291.5,1308.4 292.3,1307.8 293.3,1307.2 C294.3,1306.6 295.4,1306.1 296.6,1305.7 C297.8,1305.2 299.1,1304.9 300.5,1304.6 C301.9,1304.3 303.4,1304.1 305.1,1303.9 C306.8,1303.8 308.3,1303.7 310.4,1303.7 C312.5,1303.7 315.3,1303.8 317.8,1303.8 C320.3,1303.8 323.1,1303.7 325.2,1303.7 C327.3,1303.7 328.8,1303.8 330.5,1303.9 C332.2,1304.1 333.7,1304.3 335.1,1304.6 C336.5,1304.9 337.8,1305.2 339.0,1305.7 C340.2,1306.1 341.3,1306.6 342.3,1307.2 C343.3,1307.8 344.1,1308.4 344.9,1309.1 C345.6,1309.8 346.2,1310.6 346.7,1311.4 C347.2,1312.3 347.6,1313.1 347.8,1314.3 C348.1,1315.4 348.2,1317.0 348.2,1318.4 Z" fill="#6c6c6c" stroke="#474747" stroke-width="6.5"/>
<path d="M410.8,1323.4 C410.8,1324.8 410.7,1326.4 410.5,1327.5 C410.2,1328.7 409.9,1329.5 409.4,1330.3 C409.0,1331.2 408.4,1331.9 407.7,1332.6 C407.0,1333.4 406.2,1334.0 405.3,1334.6 C404.4,1335.1 403.4,1335.6 402.3,1336.1 C401.2,1336.5 399.9,1336.9 398.6,1337.2 C397.3,1337.5 395.9,1337.7 394.3,1337.8 C392.8,1338.0 391.4,1338.0 389.4,1338.1 C387.4,1338.1 384.8,1338.0 382.5,1338.0 C380.2,1338.0 377.6,1338.1 375.6,1338.1 C373.6,1338.0 372.2,1338.0 370.7,1337.8 C369.1,1337.7 367.7,1337.5 366.4,1337.2 C365.1,1336.9 363.8,1336.5 362.7,1336.1 C361.6,1335.6 360.6,1335.1 359.7,1334.6 C358.8,1334.0 358.0,1333.4 357.3,1332.6 C356.6,1331.9 356.0,1331.2 355.6,1330.3 C355.1,1329.5 354.8,1328.7 354.5,1327.5 C354.3,1326.4 354.2,1324.8 354.2,1323.4 C354.2,1322.0 354.3,1320.4 354.5,1319.3 C354.8,1318.1 355.1,1317.3 355.6,1316.5 C356.0,1315.6 356.6,1314.9 357.3,1314.2 C358.0,1313.4 358.8,1312.8 359.7,1312.2 C360.6,1311.7 361.6,1311.2 362.7,1310.7 C363.8,1310.3 365.1,1309.9 366.4,1309.6 C367.7,1309.3 369.1,1309.1 370.7,1309.0 C372.2,1308.8 373.6,1308.8 375.6,1308.7 C377.6,1308.7 380.2,1308.8 382.5,1308.8 C384.8,1308.8 387.4,1308.7 389.4,1308.7 C391.4,1308.8 392.8,1308.8 394.3,1309.0 C395.9,1309.1 397.3,1309.3 398.6,1309.6 C399.9,1309.9 401.2,1310.3 402.3,1310.7 C403.4,1311.2 404.4,1311.7 405.3,1312.2 C406.2,1312.8 407.0,1313.4 407.7,1314.2 C408.4,1314.9 409.0,1315.6 409.4,1316.5 C409.9,1317.3 410.2,1318.1 410.5,1319.3 C410.7,1320.4 410.8,1322.0 410.8,1323.4 Z" fill="#6c6c6c" stroke="#474747" stroke-width="6.5"/>
<path d="M478.2,1328.7 C478.1,1330.1 478.0,1331.7 477.7,1332.9 C477.4,1334.1 477.0,1334.9 476.5,1335.7 C475.9,1336.6 475.3,1337.3 474.5,1338.0 C473.8,1338.7 472.9,1339.3 471.9,1339.9 C470.9,1340.4 469.8,1340.9 468.6,1341.3 C467.4,1341.7 466.0,1342.0 464.6,1342.3 C463.2,1342.5 461.6,1342.7 460.0,1342.8 C458.3,1342.9 456.8,1342.9 454.7,1342.8 C452.5,1342.8 449.7,1342.6 447.3,1342.5 C444.8,1342.4 442.0,1342.4 439.9,1342.3 C437.8,1342.2 436.2,1342.1 434.6,1341.9 C432.9,1341.7 431.4,1341.4 430.0,1341.1 C428.6,1340.7 427.3,1340.3 426.1,1339.8 C424.9,1339.3 423.9,1338.8 422.9,1338.2 C422.0,1337.6 421.1,1336.9 420.4,1336.1 C419.7,1335.4 419.1,1334.6 418.6,1333.7 C418.2,1332.8 417.8,1332.0 417.6,1330.8 C417.4,1329.6 417.4,1328.0 417.4,1326.6 C417.5,1325.2 417.6,1323.6 417.9,1322.4 C418.2,1321.2 418.6,1320.4 419.1,1319.6 C419.7,1318.7 420.3,1318.0 421.1,1317.3 C421.8,1316.6 422.7,1316.0 423.7,1315.4 C424.7,1314.9 425.8,1314.4 427.0,1314.0 C428.2,1313.6 429.6,1313.3 431.0,1313.0 C432.4,1312.8 434.0,1312.6 435.6,1312.5 C437.3,1312.4 438.8,1312.4 440.9,1312.5 C443.1,1312.5 445.9,1312.7 448.3,1312.8 C450.8,1312.9 453.6,1312.9 455.7,1313.0 C457.8,1313.1 459.4,1313.2 461.0,1313.4 C462.7,1313.6 464.2,1313.9 465.6,1314.2 C467.0,1314.6 468.3,1315.0 469.5,1315.5 C470.7,1316.0 471.7,1316.5 472.7,1317.1 C473.6,1317.7 474.5,1318.4 475.2,1319.2 C475.9,1319.9 476.5,1320.7 477.0,1321.6 C477.4,1322.5 477.8,1323.3 478.0,1324.5 C478.2,1325.7 478.2,1327.3 478.2,1328.7 Z" fill="#6c6c6c" stroke="#474747" stroke-width="6.5"/>
<path d="M486.3,1335.2 C486.4,1332.3 487.2,1327.7 488.6,1325.2 C489.9,1322.6 491.2,1321.0 494.2,1319.8 C497.1,1318.6 501.2,1318.2 506.2,1318.0 C511.1,1317.9 518.5,1318.4 523.8,1319.0 C529.0,1319.6 534.3,1320.0 537.7,1321.6 C541.1,1323.2 543.0,1325.7 544.3,1328.8 C545.7,1331.8 545.9,1336.1 545.8,1339.8 C545.7,1343.4 545.1,1347.8 543.5,1350.8 C541.8,1353.8 540.0,1356.3 536.0,1357.5 C532.0,1358.8 524.7,1358.8 519.4,1358.3 C514.2,1357.8 508.9,1356.2 504.4,1354.6 C500.0,1353.0 495.3,1350.7 492.5,1348.7 C489.7,1346.7 488.8,1344.7 487.7,1342.5 C486.7,1340.2 486.2,1338.1 486.3,1335.2 Z" fill="#6c6c6c" stroke="#474747" stroke-width="6.5"/>
</g></g>
<rect x="79.5" y="1286.7" width="480.1" height="84.2" fill="none" stroke="#39393b" stroke-width="3"/>
</svg></body></html>
